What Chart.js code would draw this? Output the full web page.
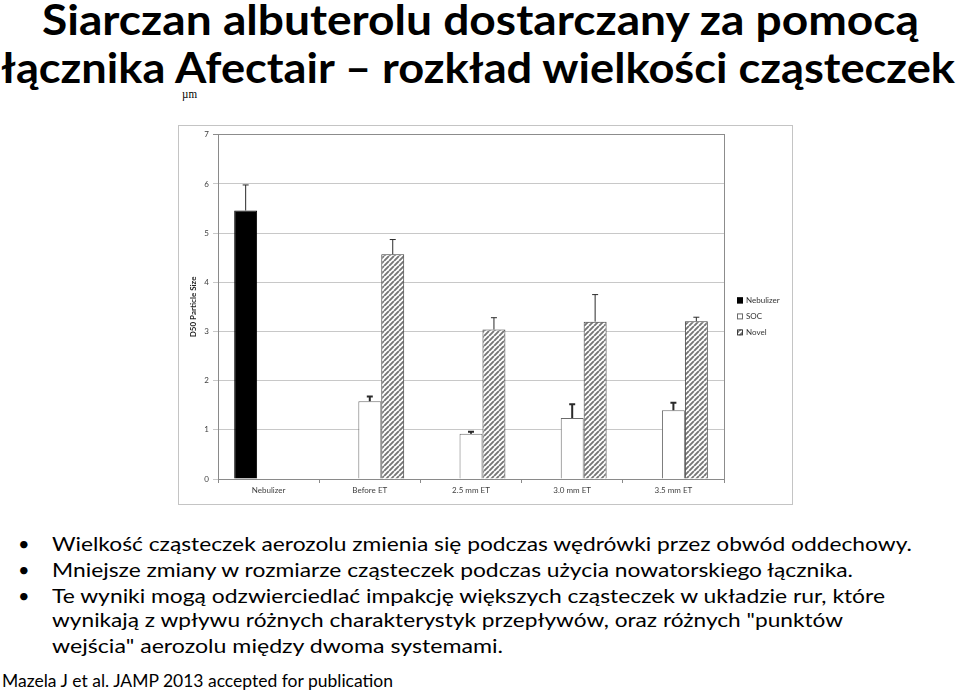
<!DOCTYPE html>
<html>
<head>
<meta charset="utf-8">
<script src="https://cdn.jsdelivr.net/npm/chart.js@4/dist/chart.umd.min.js"></script>
<style>
  html, body { margin: 0; padding: 0; background: #fff; }
  body { width: 959px; height: 692px; position: relative; overflow: hidden; font-family: Lato, "Open Sans", sans-serif; color: #000; }
  .t { position: absolute; white-space: nowrap; transform-origin: 0 0; line-height: 1.2; }
  .title { font-weight: bold; font-size: 42px; }
  .body { font-size: 20px; }
  .foot { font-size: 18px; }
  .mu { font-family: "Liberation Serif", serif; font-size: 12px; }
  #box { position: absolute; left: 178px; top: 125px; width: 613px; height: 378px; border: 1px solid #c4c4c4; }
  #box canvas { display: block; }
</style>
</head>
<body>
<div class="t title" data-x="42" data-y="35" data-w="877">Siarczan albuterolu dostarczany za pomocą</div>
<div class="t title" data-x="1" data-y="83" data-w="954">łącznika Afectair – rozkład wielkości cząsteczek</div>
<div class="t mu" data-x="182" data-y="98" data-w="15">µm</div>

<div id="box"><canvas id="chart" width="613" height="378"></canvas></div>

<div class="t body" data-x="18" data-y="551">•</div>
<div class="t body" data-x="52" data-y="551" data-w="860">Wielkość cząsteczek aerozolu zmienia się podczas wędrówki przez obwód oddechowy.</div>
<div class="t body" data-x="18" data-y="577">•</div>
<div class="t body" data-x="52" data-y="577" data-w="801">Mniejsze zmiany w rozmiarze cząsteczek podczas użycia nowatorskiego łącznika.</div>
<div class="t body" data-x="18" data-y="603">•</div>
<div class="t body" data-x="52" data-y="603" data-w="833">Te wyniki mogą odzwierciedlać impakcję większych cząsteczek w układzie rur, które</div>
<div class="t body" data-x="52" data-y="627" data-w="791">wynikają z wpływu różnych charakterystyk przepływów, oraz różnych "punktów</div>
<div class="t body" data-x="52" data-y="653" data-w="451">wejścia" aerozolu między dwoma systemami.</div>
<div class="t foot" data-x="2" data-y="687" data-w="391">Mazela J et al. JAMP 2013 accepted for publication</div>

<script>
const categories = ['Nebulizer', 'Before ET', '2.5 mm ET', '3.0 mm ET', '3.5 mm ET'];
const nebulizerValues = [5.46, null, null, null, null];
const socValues = [null, 1.58, 0.92, 1.24, 1.40];
const novelValues = [null, 4.57, 3.04, 3.20, 3.21];
const nebulizerErrors = [0.52, null, null, null, null];
const socErrors = [null, 0.10, 0.04, 0.28, 0.15];
const novelErrors = [null, 0.30, 0.24, 0.55, 0.08];
const yMin = 0, yMax = 7, yStep = 1;

// place each text line on its baseline and stretch it to the measured width
document.querySelectorAll('.t').forEach(el => {
    const probe = document.createElement('span');
    probe.style.cssText = 'display:inline-block;width:0;height:0;vertical-align:baseline';
    el.appendChild(probe);
    const base = probe.offsetTop;
    el.style.left = el.dataset.x + 'px';
    el.style.top = (+el.dataset.y - base) + 'px';
    if (el.dataset.w) {
        const w = el.getBoundingClientRect().width;
        el.style.transform = `scaleX(${+el.dataset.w / w})`;
    }
});

Chart.defaults.font.family = 'Lato, "Open Sans", sans-serif';
Chart.defaults.color = '#404040';

const canvas = document.getElementById('chart');
const ctx = canvas.getContext('2d');

function hatch () {
    const c = document.createElement('canvas');
    c.width = 5;
    c.height = 5;
    const g = c.getContext('2d');
    g.fillStyle = '#fff';
    g.fillRect(0, 0, 5, 5);
    g.strokeStyle = '#767676';
    g.lineWidth = 1.9;
    g.beginPath();
    for (const o of [-5, 0, 5]) {
        g.moveTo(o, 5);
        g.lineTo(o + 5, 0);
    }
    g.stroke();
    return ctx.createPattern(c, 'repeat');
}

const errorBars = {
    id: 'errorBars',
    afterDatasetsDraw (chart) {
        const y = chart.scales.y;
        const c = chart.ctx;
        chart.data.datasets.forEach((ds, i) => {
            const meta = chart.getDatasetMeta(i);
            meta.data.forEach((bar, j) => {
                const v = ds.data[j];
                const e = ds.errors[j];
                if (v == null || e == null) return;
                const top = y.getPixelForValue(v + e);
                c.save();
                c.strokeStyle = '#2a2a2a';
                c.lineWidth = ds.errWidth;
                c.beginPath();
                c.moveTo(bar.x, bar.y);
                c.lineTo(bar.x, top);
                c.moveTo(bar.x - 3, top);
                c.lineTo(bar.x + 3, top);
                c.stroke();
                c.restore();
            });
        });
    }
};

const sideLegend = {
    id: 'sideLegend',
    afterDraw (chart) {
        const {right, top, bottom} = chart.chartArea;
        const c = chart.ctx;
        const cy = (top + bottom) / 2 + 9.5;
        chart.data.datasets.forEach((ds, i) => {
            const yy = cy + (i - 1) * 16;
            c.save();
            c.fillStyle = ds.backgroundColor;
            c.fillRect(right + 13, yy - 3, 6, 6);
            c.strokeStyle = ds.borderColor;
            c.lineWidth = 1;
            c.strokeRect(right + 13.5, yy - 2.5, 5, 5);
            c.fillStyle = '#333';
            c.font = '8px Lato, "Open Sans", sans-serif';
            c.textBaseline = 'middle';
            c.fillText(ds.label, right + 22, yy);
            c.restore();
        });
    }
};

new Chart(canvas, {
    type: 'bar',
    data: {
        labels: categories,
        datasets: [
            { label: 'Nebulizer', data: nebulizerValues, errors: nebulizerErrors, errWidth: 1,
              backgroundColor: '#000', borderColor: '#000', borderWidth: 1 },
            { label: 'SOC', data: socValues, errors: socErrors, errWidth: 2,
              backgroundColor: '#fff', borderColor: '#6a6a6a', borderWidth: 1 },
            { label: 'Novel', data: novelValues, errors: novelErrors, errWidth: 1,
              backgroundColor: hatch(), borderColor: '#3c3c3c', borderWidth: 1 }
        ]
    },
    plugins: [errorBars, sideLegend],
    options: {
        responsive: false,
        animation: false,
        categoryPercentage: 0.68,
        barPercentage: 1,
        layout: { padding: { top: 8, right: 68, bottom: 0, left: 0 } },
        plugins: {
            legend: { display: false },
            tooltip: { enabled: false }
        },
        scales: {
            x: {
                grid: { offset: true, drawOnChartArea: false, tickLength: 4, color: '#8a8a8a' },
                border: { color: '#8a8a8a' },
                ticks: { font: { size: 8 }, padding: 3, maxRotation: 0 },
                afterFit (s) { s.height = 25; }
            },
            y: {
                min: yMin,
                max: yMax,
                ticks: { stepSize: yStep, font: { size: 8 }, padding: 4 },
                grid: {
                    tickLength: 5,
                    color: c => c.tick && c.tick.value === yMax ? '#8c8c8c' : '#c8c8c8'
                },
                border: { color: '#8a8a8a' },
                title: {
                    display: true,
                    text: 'D50 Particle Size',
                    font: { size: 8, weight: 'bold' },
                    color: '#222',
                    padding: { top: 10, bottom: 0 }
                },
                afterFit (s) { s.width = 39; }
            },
            y2: {
                position: 'right',
                min: yMin,
                max: yMax,
                ticks: { display: false },
                grid: { display: false },
                border: { color: '#8c8c8c' },
                afterFit (s) { s.width = 0; }
            }
        }
    }
});
</script>
</body>
</html>
